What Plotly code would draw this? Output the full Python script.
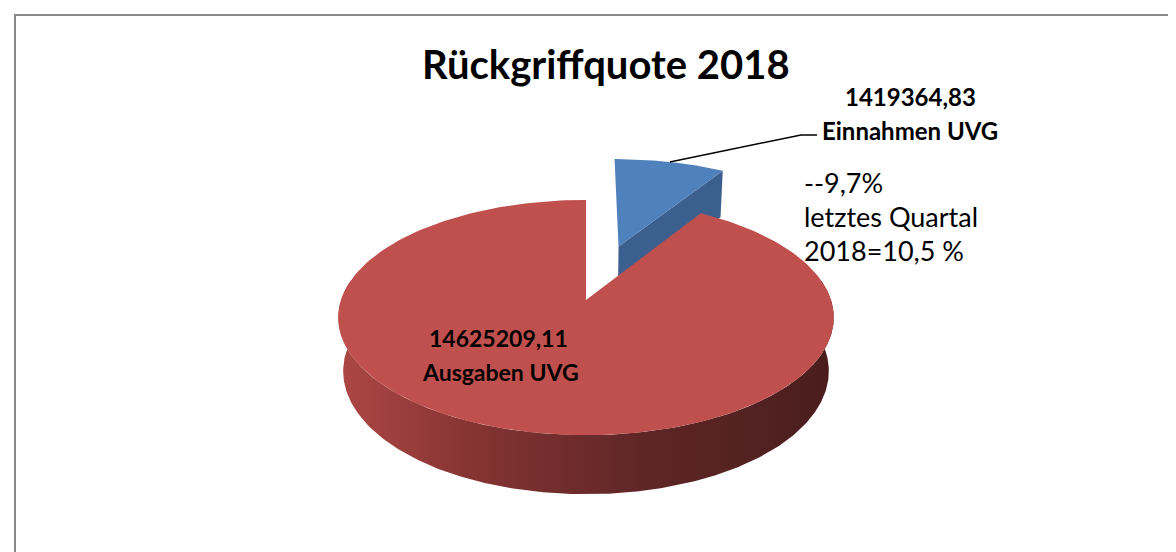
import numpy as np
import plotly.graph_objects as go

# ---------------- data ----------------
categories = ["Einnahmen UVG", "Ausgaben UVG"]
values = [1419364.83, 14625209.11]
value_labels = ["1419364,83", "14625209,11"]
title_text = "Rückgriffquote 2018"
note_lines = ["--9,7%", "letztes Quartal", "2018=10,5 %"]

# ---------------- style / geometry ----------------
CX, CY = 578.0, 292.0        # screen position of the pie centre
KR = 245.0                   # screen scale of the radius
PHI = np.radians(28.0)       # tilt of the pie
DIST = 5.93                  # camera distance (in radii)
THICK = 0.25                 # pie thickness (in radii)
EXPLODE = [0.52, 0.0]        # explosion per slice (in radii)
TOP_COLORS = ["#4f81bd", "#c0504d"]
SIDE_BLUE = "#3b6090"
RIM_SCALE = [[0.0, "#ad4744"], [0.3, "#813231"], [0.62, "#5f2626"], [1.0, "#4a1d1d"]]
FONT = "Lato"


def proj(X, Z, H):
    """perspective projection of pie-space point (X right, Z back, H up)"""
    X, Z, H = np.asarray(X, float), np.asarray(Z, float), np.asarray(H, float)
    v = Z * np.sin(PHI) + H * np.cos(PHI)
    w = Z * np.cos(PHI) - H * np.sin(PHI)
    s = DIST / (DIST + w)
    return CX + KR * X * s, CY - KR * v * s


total = sum(values)
fracs = [v / total for v in values]
starts = np.concatenate([[0.0], np.cumsum(fracs)[:-1]]) * 2 * np.pi
ends = np.cumsum(fracs) * 2 * np.pi

fig = go.Figure()

slices = []
for i, (a0, a1) in enumerate(zip(starts, ends)):
    mid = (a0 + a1) / 2
    ox, oz = EXPLODE[i] * np.sin(mid), EXPLODE[i] * np.cos(mid)
    slices.append((a0, a1, ox, oz))

# draw order: small (blue) slice first, big (red) slice in front
for i in [0, 1]:
    a0, a1, ox, oz = slices[i]
    th = np.linspace(a0, a1, 240)
    if i == 0:
        # radial side face at the end angle (faces the viewer)
        px = [ox, ox + np.sin(a1), ox + np.sin(a1), ox]
        pz = [oz, oz + np.cos(a1), oz + np.cos(a1), oz]
        ph = [0, 0, -THICK, -THICK]
        sx, sy = proj(px, pz, ph)
        fig.add_trace(go.Scatter(x=list(sx) + [sx[0]], y=list(sy) + [sy[0]], mode="lines",
                                 fill="toself", fillcolor=SIDE_BLUE, line=dict(width=0),
                                 hoverinfo="skip", showlegend=False))
    else:
        # visible outer rim
        lo, hi = max(a0, np.radians(80)), min(a1, np.radians(280))
        tr = np.linspace(lo, hi, 240)
        tx, ty = proj(ox + np.sin(tr), oz + np.cos(tr), np.zeros_like(tr))
        bx, by = proj(ox + np.sin(tr[::-1]), oz + np.cos(tr[::-1]), -THICK * np.ones_like(tr))
        rx = np.concatenate([tx, bx, tx[:1]])
        ry = np.concatenate([ty, by, ty[:1]])
        fig.add_trace(go.Scatter(x=rx, y=ry, mode="lines", fill="toself",
                                 fillgradient=dict(type="horizontal", colorscale=RIM_SCALE),
                                 line=dict(width=0), hoverinfo="skip", showlegend=False))
    # top face
    ax, ay = proj(ox, oz, 0)
    ex, ey = proj(ox + np.sin(th), oz + np.cos(th), np.zeros_like(th))
    fx = np.concatenate([[ax], ex, [ax]])
    fy = np.concatenate([[ay], ey, [ay]])
    fig.add_trace(go.Scatter(x=fx, y=fy, mode="lines", fill="toself",
                             fillcolor=TOP_COLORS[i], line=dict(width=0),
                             name=categories[i], hoverinfo="name", showlegend=False))

# leader line for the small slice
a0, a1, ox, oz = slices[0]
mid = (a0 + a1) / 2
lx, ly = proj(ox + np.sin(mid) * 1.0, oz + np.cos(mid) * 1.0, 0)
fig.add_trace(go.Scatter(x=[float(lx), 793, 809], y=[float(ly), 127, 127], mode="lines",
                         line=dict(color="black", width=1.5), hoverinfo="skip", showlegend=False))

annos = []
annos.append(dict(x=598, y=56, text="<b>" + title_text + "</b>",
                  font=dict(family=FONT, size=40, color="black")))
annos.append(dict(x=902, y=88, text="<b>" + value_labels[0] + "</b>",
                  font=dict(family=FONT, size=24, color="black")))
annos.append(dict(x=902, y=122, text="<b>" + categories[0] + "</b>",
                  font=dict(family=FONT, size=24, color="black")))
annos.append(dict(x=490, y=330, text="<b>" + value_labels[1] + "</b>",
                  font=dict(family=FONT, size=23, color="black")))
annos.append(dict(x=492, y=364, text="<b>" + categories[1] + "</b>",
                  font=dict(family=FONT, size=23, color="black")))
for k, (txt, yy) in enumerate(zip(note_lines, [174, 208, 242])):
    annos.append(dict(x=794, y=yy, text=txt, xanchor="left",
                      font=dict(family=FONT, size=27, color="black")))
for a in annos:
    a.setdefault("xanchor", "center")
    a.update(xref="x", yref="y", yanchor="middle", showarrow=False)

fig.update_layout(
    width=1176, height=552,
    margin=dict(l=0, r=0, t=0, b=0),
    paper_bgcolor="white", plot_bgcolor="white",
    xaxis=dict(range=[0, 1176], visible=False, fixedrange=True),
    yaxis=dict(range=[552, 0], visible=False, fixedrange=True),
    annotations=annos,
    shapes=[dict(type="rect", xref="x", yref="y", x0=7, y0=7, x1=1190, y1=570,
                 line=dict(color="#898989", width=2), fillcolor="rgba(0,0,0,0)")],
)

fig.write_html("out.html")
